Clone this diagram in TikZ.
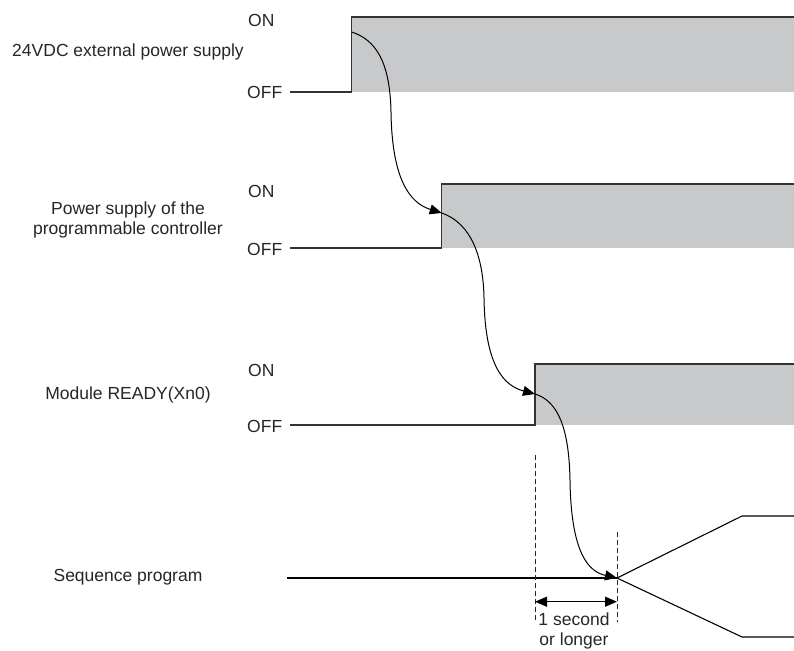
\documentclass[tikz,border=0pt]{standalone}
\usepackage{fontspec}
\setmainfont{Liberation Sans}
\usepackage{xcolor}
\usetikzlibrary{arrows.meta, positioning}
\definecolor{ongray}{HTML}{C8C9CB}
\definecolor{lineblk}{HTML}{333333}

\begin{document}
\begin{tikzpicture}[
    x=1pt, y=-1pt,
    font=\fontsize{17.5}{20}\selectfont,
    level/.style={anchor=west, inner sep=0pt, text=black!85},
    signame/.style={align=center, inner sep=0pt, text=black!85},
    sig/.style={draw=lineblk, line width=1.4pt},
    onarea/.style={fill=ongray},
    flow/.style={-{Triangle[length=12pt, width=10pt]}, line width=1pt},
    marker/.style={draw=black!85, line width=0.9pt, dash pattern=on 5pt off 3pt},
    span/.style={{Triangle[length=12pt, width=10pt]}-{Triangle[length=12pt, width=10pt]}, line width=1.3pt}
]
    \useasboundingbox (0,0) rectangle (794,650);

    % Signal names
    \node[signame] (ext) at (128,52) {24VDC external power supply};
    \node[signame] (plc) at (128,220) {Power supply of the\\programmable controller};
    \node[signame] (ready) at (128,395) {Module READY(Xn0)};
    \node[signame] (seq) at (128,577) {Sequence program};

    % ON / OFF levels
    \node[level] (on1) at (248,20) {ON};
    \node[level] (off1) at (247,92) {OFF};
    \node[level] (on2) at (248,191) {ON};
    \node[level] (off2) at (247,249) {OFF};
    \node[level] (on3) at (248,370) {ON};
    \node[level] (off3) at (247,426) {OFF};

    % Edge points
    \coordinate (lo1) at (290,92);
    \coordinate (up1) at (351.7,92);
    \coordinate (hi1) at (351.7,17);
    \coordinate (t1) at (351.7,32);
    \coordinate (lo2) at (290,248);
    \coordinate (up2) at (441.7,248);
    \coordinate (hi2) at (441.7,184);
    \coordinate (t2) at (441.7,213);
    \coordinate (lo3) at (290,425);
    \coordinate (up3) at (535,425);
    \coordinate (hi3) at (535,364);
    \coordinate (t3) at (535,394);
    \coordinate (lo4) at (287,578);
    \coordinate (t4) at (617,578);
    \coordinate (br1) at (742,516);
    \coordinate (br2) at (742,637);

    % ON periods
    \fill[onarea] (hi1) rectangle (794,92);
    \fill[onarea] (hi2) rectangle (794,248);
    \fill[onarea] (hi3) rectangle (794,425);

    % Signal lines
    \draw[sig] (lo1) -- (up1) -- (hi1) -- (794,17);
    \draw[sig] (lo2) -- (up2) -- (hi2) -- (794,184);
    \draw[sig] (lo3) -- (up3) -- (hi3) -- (794,364);
    \draw[sig, draw=black, line width=1.1pt] (lo4) -- (t4);
    \draw[sig, draw=black, line width=1.1pt] (t4) -- (br1) -- (794,516);
    \draw[sig, draw=black, line width=1.1pt] (t4) -- (br2) -- (794,637);

    % Sequence of events
    \draw[flow] (t1) .. controls (376,40) and (390,62) .. (391,112)
        .. controls (392,180) and (410,203) .. (t2);
    \draw[flow] (t2) .. controls (465,221) and (483,246) .. (484,298)
        .. controls (485,368) and (505,386) .. (t3);
    \draw[flow] (t3) .. controls (558,401) and (569,428) .. (570,480)
        .. controls (571,556) and (590,572) .. (t4);

    % 1 second or longer
    \coordinate (d1) at (535,455);
    \coordinate (d2) at (617,532);
    \draw[marker] (d1) -- (535,622);
    \draw[marker] (d2) -- (617,622);
    \draw[span] (535,601.7) -- (617,601.7);
    \node[signame] (wait) at (574,631) {1 second\\or longer};
\end{tikzpicture}
\end{document}
